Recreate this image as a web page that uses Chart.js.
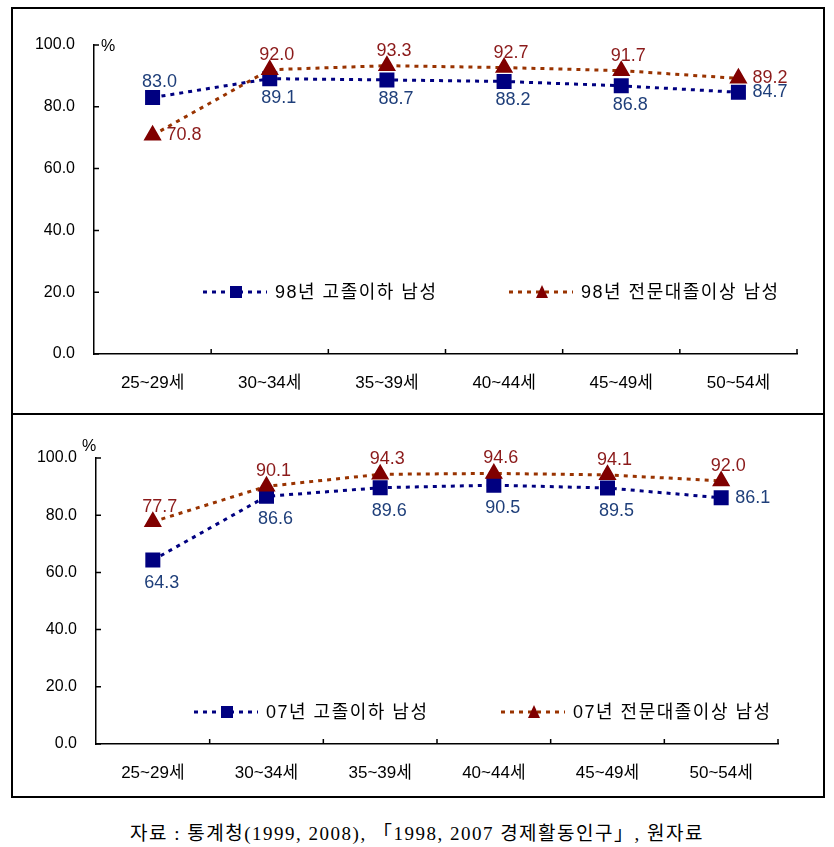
<!DOCTYPE html>
<html lang="ko">
<head>
<meta charset="utf-8">
<script src="https://cdn.jsdelivr.net/npm/chart.js@4/dist/chart.umd.min.js"></script>
<style>
  html, body { margin:0; padding:0; background:#fff; }
  body { width:834px; height:847px; position:relative; overflow:hidden; }
  #frame { position:absolute; left:11px; top:7px; width:814px; height:791px; border:2px solid #000; box-sizing:border-box; }
  #sep { position:absolute; left:11px; top:413px; width:814px; height:2px; background:#000; }
  .box { position:absolute; left:13px; width:809px; }
  #b1 { top:9px; height:404px; }
  #b2 { top:416px; height:379px; }
  #src { position:absolute; left:0; width:834px; top:818px; text-align:center; font:19px "Liberation Serif", "Noto Sans CJK KR", serif; letter-spacing:1.5px; color:#000; white-space:nowrap; }
</style>
</head>
<body>
<div id="frame"></div>
<div id="sep"></div>
<div class="box" id="b1"><canvas id="c1"></canvas></div>
<div class="box" id="b2"><canvas id="c2"></canvas></div>
<div id="src">자료 : 통계청(1999, 2008), 「1998, 2007 경제활동인구」, 원자료</div>
<script>
const ages = ['25~29세', '30~34세', '35~39세', '40~44세', '45~49세', '50~54세'];
const yTicks = [0, 20, 40, 60, 80, 100];

const hs98 = [83.0, 89.1, 88.7, 88.2, 86.8, 84.7];
const col98 = [70.8, 92.0, 93.3, 92.7, 91.7, 89.2];
const hs07 = [64.3, 86.6, 89.6, 90.5, 89.5, 86.1];
const col07 = [77.7, 90.1, 94.3, 94.6, 94.1, 92.0];

// where each value label sits: a = above, b = below, r = right
const pos98hs = ['a', 'b', 'b', 'b', 'b', 'r'];
const pos98col = ['r', 'a', 'a', 'a', 'a', 'r'];
const pos07hs = ['b', 'b', 'b', 'b', 'b', 'r'];
const pos07col = ['a', 'a', 'a', 'a', 'a', 'a'];

const NAVY = '#000080', BROWN = '#993300', DRED = '#800000';
const LBL_BLUE = '#1f3f7a', LBL_RED = '#8b1a1a';
const SANS = '"Liberation Sans", "Noto Sans CJK KR", sans-serif';

const deco = {
  id: 'deco',
  afterDraw(chart, args, o) {
    const { ctx, chartArea: a, scales: { x, y } } = chart;
    ctx.save();
    // inward tick marks
    ctx.strokeStyle = '#000';
    ctx.lineWidth = 1.5;
    ctx.beginPath();
    y.ticks.forEach(t => {
      const py = y.getPixelForValue(t.value);
      ctx.moveTo(a.left, py); ctx.lineTo(a.left + 5, py);
    });
    for (let i = 0; i < ages.length; i++) {
      const px = i < ages.length - 1 ? (x.getPixelForValue(i) + x.getPixelForValue(i + 1)) / 2 : a.right;
      ctx.moveTo(px, a.bottom); ctx.lineTo(px, a.bottom - 5);
    }
    ctx.stroke();

    // % unit
    ctx.fillStyle = '#000';
    ctx.font = '16px ' + SANS;
    ctx.textBaseline = 'middle';
    ctx.textAlign = 'left';
    ctx.fillText('%', a.left + o.pct[0], a.top + o.pct[1]);

    // value labels
    ctx.font = '18px ' + SANS;
    chart.data.datasets.forEach((ds, di) => {
      const meta = chart.getDatasetMeta(di);
      meta.data.forEach((pt, j) => {
        const p = ds.lblPos[j];
        const txt = ds.data[j].toFixed(1);
        ctx.fillStyle = ds.lblColor;
        if (p === 'r') { ctx.textAlign = 'left'; ctx.fillText(txt, pt.x + 14, pt.y); }
        else if (p === 'a') { ctx.textAlign = 'center'; ctx.fillText(txt, pt.x + 7, pt.y - 15); }
        else { ctx.textAlign = 'center'; ctx.fillText(txt, pt.x + 9, pt.y + o.below); }
      });
    });

    // legend
    ctx.font = '18px ' + SANS;
    ctx.letterSpacing = '1.5px';
    ctx.textAlign = 'left';
    chart.data.datasets.forEach((ds, di) => {
      const lx = o.legX[ds.legIdx], ly = o.legY;
      ctx.strokeStyle = ds.borderColor;
      ctx.lineWidth = 3;
      ctx.setLineDash([4, 5]);
      ctx.beginPath(); ctx.moveTo(lx, ly); ctx.lineTo(lx + 64, ly); ctx.stroke();
      ctx.setLineDash([]);
      ctx.fillStyle = ds.pointBackgroundColor;
      ctx.beginPath();
      if (ds.pointStyle === 'rect') ctx.rect(lx + 33 - 6, ly - 6, 12, 12);
      else { ctx.moveTo(lx + 33, ly - 7); ctx.lineTo(lx + 39, ly + 6); ctx.lineTo(lx + 27, ly + 6); ctx.closePath(); }
      ctx.fill();
      ctx.fillStyle = '#000';
      ctx.fillText(ds.label, lx + 72, ly + 1);
    });
    ctx.restore();
  }
};

function makeChart(id, hs, col, posHs, posCol, yr, L) {
  return new Chart(document.getElementById(id), {
    type: 'line',
    data: {
      labels: ages,
      datasets: [
        { label: yr + '년 고졸이하 남성', data: hs, borderColor: NAVY, backgroundColor: NAVY,
          pointBackgroundColor: NAVY, pointBorderColor: NAVY, pointStyle: 'rect', pointRadius: 8.5,
          borderWidth: 3, borderDash: [4, 5], order: 1, lblPos: posHs, lblColor: LBL_BLUE, legIdx: 0 },
        { label: yr + '년 전문대졸이상 남성', data: col, borderColor: BROWN, backgroundColor: DRED,
          pointBackgroundColor: DRED, pointBorderColor: DRED, pointStyle: 'triangle', pointRadius: 7.5,
          borderWidth: 3, borderDash: [4, 5], order: 0, lblPos: posCol, lblColor: LBL_RED, legIdx: 1 }
      ]
    },
    options: {
      responsive: true,
      maintainAspectRatio: false,
      animation: false,
      layout: { padding: { left: 0, right: L.right, top: L.top, bottom: 0 } },
      plugins: {
        legend: { display: false },
        tooltip: { enabled: false },
        deco: { pct: L.pct, below: L.below, legX: L.legX, legY: L.legY }
      },
      scales: {
        x: {
          offset: true,
          grid: { display: false, drawTicks: false, offset: true },
          border: { display: true, color: '#000', width: 1.5 },
          ticks: { color: '#000', font: { size: 17, family: SANS }, padding: L.xpad, maxRotation: 0 },
          afterFit: s => { s.height = L.xh; }
        },
        y: {
          min: 0, max: 100,
          afterBuildTicks: s => { s.ticks = yTicks.map(v => ({ value: v })); },
          grid: { display: false, drawTicks: false },
          border: { display: true, color: '#000', width: 1.5 },
          ticks: { color: '#000', font: { size: 16, family: SANS }, padding: 19, callback: v => Number(v).toFixed(1) },
          afterFit: s => { s.width = L.yw; }
        }
      }
    },
    plugins: [deco]
  });
}

makeChart('c1', hs98, col98, pos98hs, pos98col, '98',
  { right: 25, top: 36, xh: 59, yw: 81, xpad: 19, pct: [7, 2], below: 19, legX: [190, 496], legY: 283 });
makeChart('c2', hs07, col07, pos07hs, pos07col, '07',
  { right: 44, top: 42, xh: 51, yw: 83, xpad: 19, pct: [-14, -11], below: 23, legX: [181, 488], legY: 296 });
</script>
</body>
</html>
